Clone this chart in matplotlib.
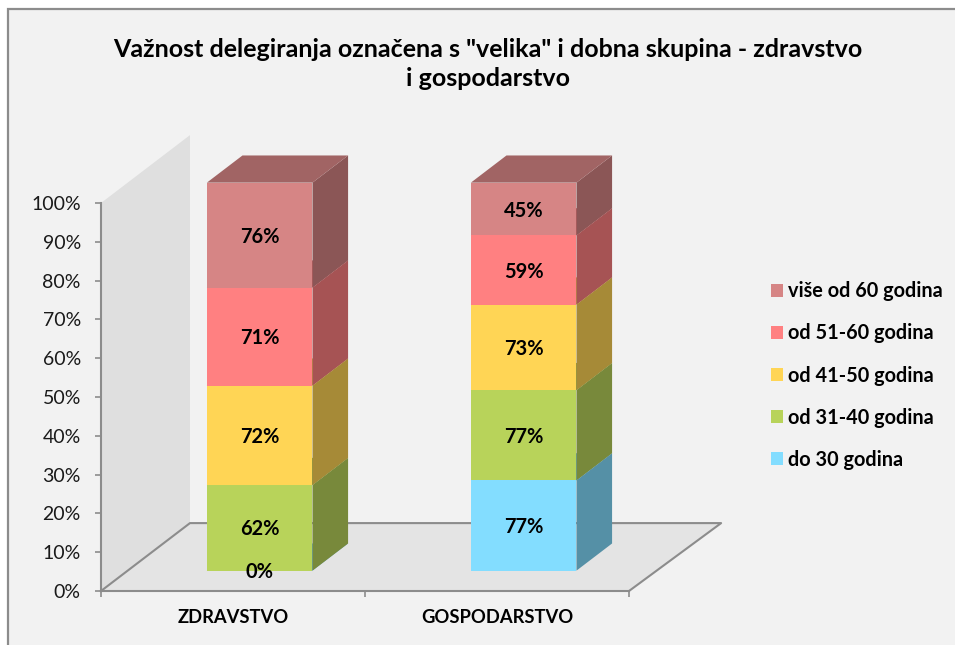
import matplotlib
matplotlib.use("Agg")
import matplotlib.pyplot as plt
from matplotlib.patches import Rectangle
from matplotlib.colors import to_rgb

categories = ["ZDRAVSTVO", "GOSPODARSTVO"]
series_names = ["do 30 godina", "od 31-40 godina", "od 41-50 godina", "od 51-60 godina", "više od 60 godina"]
colors = ["#83DDFF", "#B8D35A", "#FFD555", "#FF8081", "#D68585"]
zdravstvo = [0, 62, 72, 71, 76]
gospodarstvo = [77, 77, 73, 59, 45]
title = 'Važnost delegiranja označena s "velika" i dobna skupina - zdravstvo\ni gospodarstvo'

W, H = 955, 645
plt.rcParams['font.family'] = ['Lato', 'DejaVu Sans']

# depth of the fake 3D box, in data units
DX = 0.337
DY = 17.5
FLOOR_EXTRA = 0.012
GREY = "#8C8C8C"


def shade(c, f):
    r, g, b = to_rgb(c)
    return (r * f, g * f, b * f)


fig = plt.figure(figsize=(W / 100, H / 100), dpi=100, facecolor="white")

# chart area background, runs off the right and bottom edge
fig.add_artist(Rectangle((8 / W, -0.1), 1.1, 1.1 - 9 / H, transform=fig.transFigure,
                         facecolor="#F2F2F2", edgecolor=GREY, linewidth=1.6, zorder=-5))

ax = fig.add_axes([101 / W, 1 - 591 / H, 528 / W, 388 / H])
ax.patch.set_visible(False)
ax.set_xlim(0, 2)
ax.set_ylim(0, 100)

# wall and floor
floor_x = [0, DX, 2 + DX + FLOOR_EXTRA, 2]
floor_y = [0, DY, DY, 0]
ax.fill([0, DX, DX, 0], [0, DY, 100 + DY, 100], color="#DFDFDF", lw=0, clip_on=False, zorder=1)
ax.fill(floor_x, floor_y, color="#E4E4E4", lw=0, clip_on=False, zorder=1)
ax.plot(floor_x, floor_y, color=GREY, lw=1.5, clip_on=False, zorder=2)

# stacked boxes
handles = []
for i, row in enumerate([zdravstvo, gospodarstvo]):
    total = sum(row)
    bottom = 0
    left = i + 0.3 + 0.3 * DX
    base = 0.3 * DY
    dx = 0.4 * DX
    dy = 0.4 * DY
    for j, v in enumerate(row):
        pct = v / total * 100
        y0 = base + bottom
        y1 = y0 + pct
        z = 3 + j
        ax.fill([left + 0.4, left + 0.4 + dx, left + 0.4 + dx, left + 0.4],
                [y0, y0 + dy, y1 + dy, y1], color=shade(colors[j], 0.65), lw=0, clip_on=False, zorder=z)
        ax.fill([left, left + dx, left + 0.4 + dx, left + 0.4],
                [y1, y1 + dy, y1 + dy, y1], color=shade(colors[j], 0.75), lw=0, clip_on=False, zorder=z)
        b = ax.bar(left, pct, width=0.4, bottom=y0, align="edge", color=colors[j], lw=0, clip_on=False, zorder=z + 0.5)
        if i == 1:
            handles.append(b[0])
        ax.text(left + 0.2, y0 + pct / 2 - 0.4, "{}%".format(v), ha="center", va="center",
                fontsize=14.4, fontweight="bold", color="black", zorder=20)
        bottom += pct

# axes
for s in ["top", "right"]:
    ax.spines[s].set_visible(False)
for s in ["left", "bottom"]:
    ax.spines[s].set_color(GREY)
    ax.spines[s].set_linewidth(1.5)
    ax.spines[s].set_zorder(2)
ax.set_yticks(range(0, 101, 10))
ax.set_yticklabels(["{}%".format(t) for t in range(0, 101, 10)], fontsize=14, color="#1A1A1A")
ax.tick_params(axis="y", length=4.5, width=1.2, color=GREY, pad=10)
ax.set_xticks([0, 1, 2])
ax.set_xticklabels([])
ax.tick_params(axis="x", which="major", length=4.5, width=1.2, color=GREY)
ax.set_xticks([0.5, 1.5], minor=True)
ax.set_xticklabels(categories, minor=True, fontsize=13.2, fontweight="bold", color="black")
ax.tick_params(axis="x", which="minor", length=0, pad=13)

fig.text(488 / W, 1 - 64 / H, title, ha="center", va="center", fontsize=18,
         fontweight="bold", color="black", linespacing=1.36)

fig.legend(handles[::-1], series_names[::-1], loc="center left",
           bbox_to_anchor=(771 / W, 1 - 375.5 / H), frameon=False,
           prop={"size": 14.3, "weight": "bold"}, handlelength=0.6, handleheight=0.6,
           handletextpad=0.27, labelspacing=1.11, borderpad=0, borderaxespad=0)

fig.savefig("out.png", dpi=100, facecolor=fig.get_facecolor())
